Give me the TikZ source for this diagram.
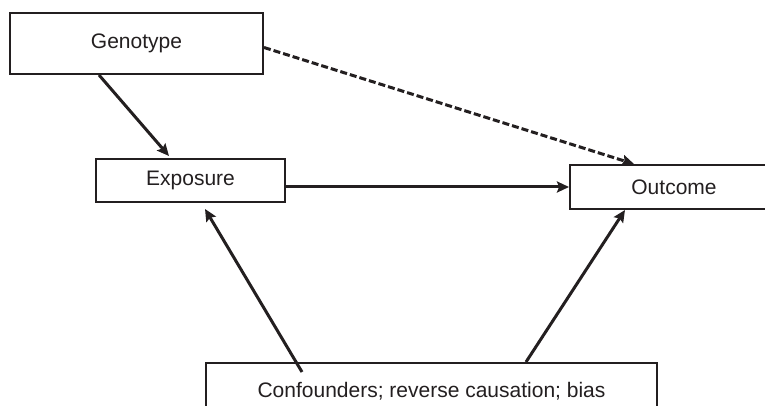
\documentclass[tikz,border=0pt]{standalone}
\usepackage{fontspec}
\setmainfont{Liberation Sans}
\usepackage{tikz}
\usetikzlibrary{arrows.meta, positioning, calc}
\definecolor{inkgray}{RGB}{35,31,32}

\begin{document}
\begin{tikzpicture}[
  x=1pt, y=-1pt,
  box/.style={draw=inkgray, line width=2pt, fill=white, inner sep=0pt,
              font=\fontsize{21}{25}\selectfont, text=inkgray},
  arr/.style={-{Stealth[length=12pt, width=11pt, inset=2pt]}, line width=3pt, inkgray},
  dasharr/.style={arr, dash pattern=on 7pt off 3pt}
]
\useasboundingbox (0,0) rectangle (765,406);
\clip (0,0) rectangle (765,406);
% boxes
\node[box, minimum width=253pt, minimum height=61pt] (geno) at (136.5,43.5) {Genotype};
\node[box, minimum width=189pt, minimum height=43pt] (expo) at (190.5,180.5) {Exposure};
\node[box, minimum width=208pt, minimum height=44pt] (outc) at (674,187) {Outcome};
\node[box, minimum width=451pt, minimum height=56pt] (conf) at (431.5,391) {Confounders; reverse causation; bias};
% arrows
\draw[arr] ([xshift=90pt]geno.south west) -- ([xshift=74pt, yshift=2pt]expo.north west);
\draw[dasharr] ([yshift=-4pt]geno.east) -- ([xshift=65pt]outc.north west);
\draw[arr] (expo.east |- outc.west) -- (outc.west);
\draw[arr] ([xshift=97pt, yshift=-10pt]conf.north west) -- ([xshift=110pt, yshift=-6pt]expo.south west);
\draw[arr] ([xshift=321pt]conf.north west) -- ([xshift=56pt]outc.south west);
\end{tikzpicture}
\end{document}
